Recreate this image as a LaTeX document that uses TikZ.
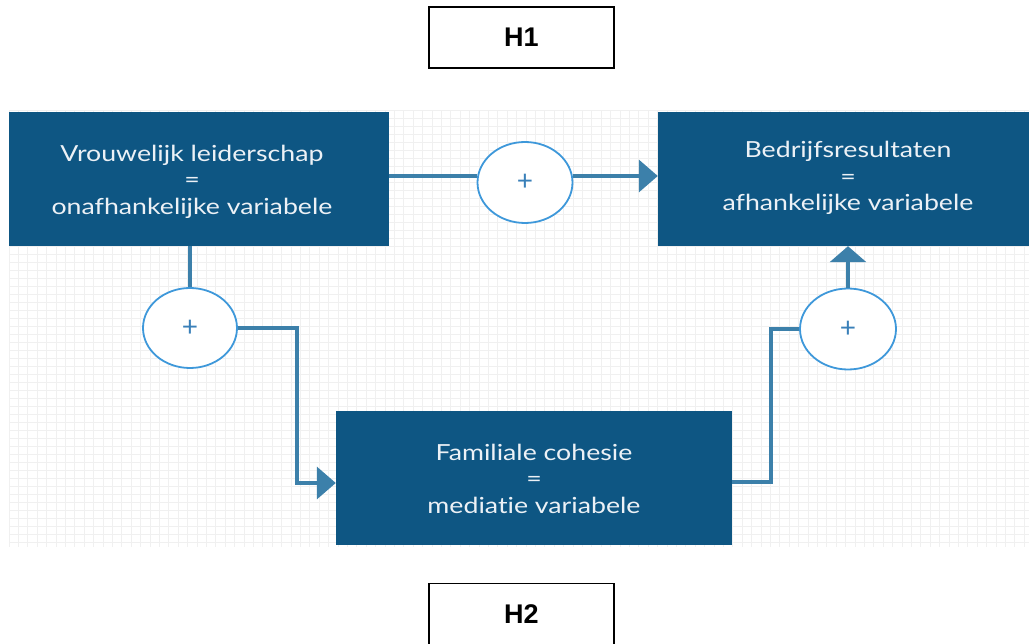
\documentclass[tikz,border=0pt]{standalone}
\usepackage{fontspec}
\setmainfont{Lato}[Ligatures=NoCommon]
\newfontfamily\hfont{Liberation Sans}
\usetikzlibrary{arrows.meta,shapes.geometric,calc}
\definecolor{boxblue}{RGB}{14,86,131}
\definecolor{linkblue}{RGB}{60,128,170}
\definecolor{ringblue}{RGB}{62,152,218}
\definecolor{plusblue}{RGB}{58,128,185}
\definecolor{txtwhite}{RGB}{236,241,246}
\definecolor{gridgrey}{RGB}{240,240,240}
% #1 = shift left, #2 = shift down, #3 first line, #4 last line
\newcommand{\vlines}[4]{\hbox{\kern-#1\raisebox{-#2}[\height][\depth]{\scalebox{1}[0.83]{%
  \fontsize{26.7}{32}\selectfont
  \begin{tabular}{@{}c@{}}#3\\=\\#4\end{tabular}}}\kern#1}}
\tikzset{
  varbox/.style={rectangle, fill=boxblue, draw=none, text=txtwhite, align=center,
    inner sep=0pt},
  ring/.style={ellipse, draw=ringblue, line width=1.8pt, fill=white, inner sep=0pt,
    text=plusblue, font=\fontsize{28}{28}\selectfont},
  hbox/.style={rectangle, draw=black, line width=1.6pt, fill=white, inner sep=0pt,
    minimum width=185pt, minimum height=61pt, font=\hfont\bfseries\fontsize{27}{27}\selectfont},
  conn/.style={draw=linkblue, line width=3.6pt},
  harrow/.style={-{Triangle[length=19pt,width=32pt]}},
  varrow/.style={-{Triangle[length=16pt,width=36pt]}},
}
\begin{document}
\begin{tikzpicture}[x=1pt,y=-1pt]
\useasboundingbox (0,0) rectangle (1029,644);
% grid
\foreach \i in {0,...,108} {
  \pgfmathsetmacro{\gx}{9+9.4*\i}
  \draw[gridgrey, line width=0.8pt] (\gx,110) -- (\gx,547);
}
\foreach \j in {0,...,54} {
  \pgfmathsetmacro{\gy}{110+8*\j}
  \draw[gridgrey, line width=0.8pt] (9,\gy) -- (1029,\gy);
}
% hypothesis labels
\node[hbox] (H1) at (521.5,37.5) {H1};
\node[hbox] (H2) at (521.5,614) {H2};
% variable boxes
\node[varbox, minimum width=380pt, minimum height=134pt] (A) at (199,179)
  {\vlines{7pt}{3.5pt}{Vrouwelijk leiderschap}{onafhankelijke variabele}};
\node[varbox, minimum width=380pt, minimum height=134pt] (B) at (848,179)
  {\vlines{0pt}{0pt}{Bedrijfsresultaten}{afhankelijke variabele}};
\node[varbox, minimum width=396pt, minimum height=134pt] (C) at (534,478)
  {\vlines{0pt}{3.5pt}{Familiale cohesie}{mediatie variabele}};
% rings
\node[ring, minimum width=95pt, minimum height=81pt] (E1) at (525,182.5) {+};
\node[ring, minimum width=94pt, minimum height=80pt] (E2) at (190,328) {+};
\node[ring, minimum width=96pt, minimum height=81pt] (E3) at (848,329) {+};
% connectors
\draw[conn] ([yshift=3pt]A.east) -- ([yshift=6.5pt]E1.west);
\draw[conn, harrow] ([yshift=6.5pt]E1.east) -- ([yshift=3pt]B.west);
\draw[conn] (E2.north |- A.south) -- (E2.north);
\draw[conn, harrow] (E2.east) -- ++(59,0) |- ([yshift=-5pt]C.west);
\draw[conn] ([yshift=-4pt]C.east) -- ++(39,0) |- (E3.west);
\draw[conn, varrow] (E3.north) -- (E3.north |- B.south);
\end{tikzpicture}
\end{document}
